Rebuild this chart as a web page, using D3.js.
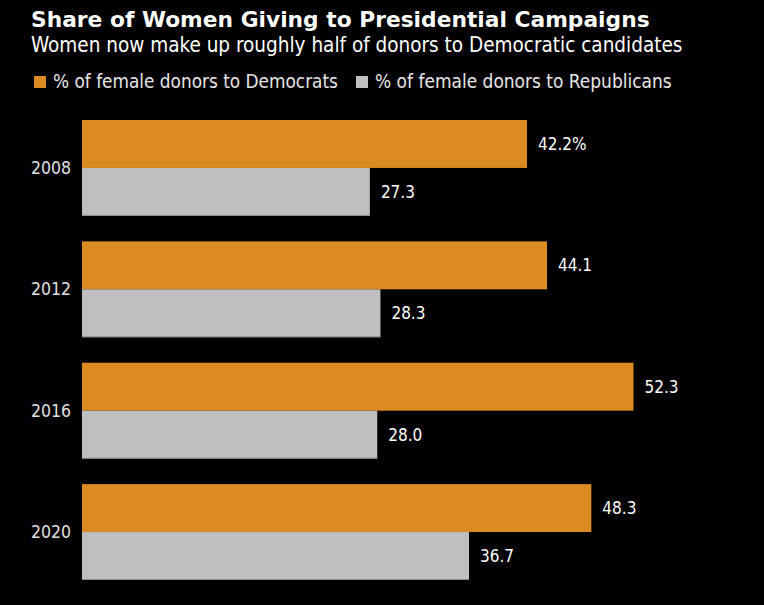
<!DOCTYPE html>
<html><head><meta charset="utf-8">
<script src="https://cdnjs.cloudflare.com/ajax/libs/d3/7.8.5/d3.min.js"></script>
<style>html,body{margin:0;padding:0;background:#000;}svg{display:block;}</style>
</head><body>
<script>
const years = ["2008", "2012", "2016", "2020"];
const democrats = [42.2, 44.1, 52.3, 48.3];
const republicans = [27.3, 28.3, 28.0, 36.7];
const seriesNames = ["% of female donors to Democrats", "% of female donors to Republicans"];
const colors = ["#dc8a22", "#bfbfbf"];

const W = 764, H = 605;
const svg = d3.select("body").append("svg").attr("width", W).attr("height", H).style("background", "#000");
const condensed = "'DejaVu Sans Condensed', 'DejaVu Sans', sans-serif";

function fit(sel, target) {
  const n = sel.node();
  const w = n.getComputedTextLength();
  const fs = parseFloat(sel.attr("font-size"));
  sel.attr("font-size", (fs * target / w).toFixed(2));
}

const title = svg.append("text").attr("x", 31).attr("y", 27).attr("fill", "#fff")
  .attr("font-family", "'DejaVu Sans', sans-serif").attr("font-weight", "bold").attr("font-size", 21)
  .text("Share of Women Giving to Presidential Campaigns");
fit(title, 619);
const sub = svg.append("text").attr("x", 31).attr("y", 52).attr("fill", "#fff")
  .attr("font-family", condensed).attr("font-size", 18)
  .text("Women now make up roughly half of donors to Democratic candidates");
fit(sub, 652);

const legendX = [34, 356];
const legendTextX = [53, 375];
const legendW = [285, 297];
seriesNames.forEach((s, i) => {
  svg.append("rect").attr("x", legendX[i]).attr("y", 76).attr("width", 12).attr("height", 12).attr("fill", colors[i]);
  const t = svg.append("text").attr("x", legendTextX[i]).attr("y", 88).attr("fill", "#e6e6e6")
    .attr("font-family", condensed).attr("font-size", 16).text(s);
  fit(t, legendW[i]);
});

const x = d3.scaleLinear().domain([0, 52.3]).range([82, 633.5]);
const y = d3.scaleBand().domain(years).range([120, 580]).paddingInner(0.21).paddingOuter(0);
const sub2 = d3.scaleBand().domain([0, 1]).range([0, y.bandwidth()]);

const data = years.map((yr, i) => ({ year: yr, vals: [democrats[i], republicans[i]] }));

const g = svg.selectAll("g.grp").data(data).join("g").attr("class", "grp")
  .attr("transform", d => `translate(0,${y(d.year)})`);

g.selectAll("rect.bar").data(d => d.vals.map((v, k) => ({ v, k })))
  .join("rect").attr("class", "bar")
  .attr("x", x(0)).attr("y", d => sub2(d.k))
  .attr("width", d => x(d.v) - x(0)).attr("height", sub2.bandwidth())
  .attr("fill", d => colors[d.k]);

g.append("line").attr("x1", x(0)).attr("x2", d => x(d.vals[1]))
  .attr("y1", y.bandwidth() - 0.5).attr("y2", y.bandwidth() - 0.5)
  .attr("stroke", "#8a8a8a").attr("stroke-width", 1);

g.selectAll("text.val").data((d, gi) => d.vals.map((v, k) => ({ v, k, gi })))
  .join("text").attr("class", "val")
  .attr("x", d => x(d.v) + 11).attr("y", d => sub2(d.k) + sub2.bandwidth() / 2 + 6)
  .attr("fill", "#fff").attr("font-family", condensed).attr("font-size", 17)
  .text(d => d.v.toFixed(1) + (d.gi === 0 && d.k === 0 ? "%" : ""));

g.append("text").attr("x", 71).attr("y", y.bandwidth() / 2 + 6)
  .attr("text-anchor", "end").attr("fill", "#e0e0e0")
  .attr("font-family", condensed).attr("font-size", 17.5)
  .text(d => d.year);
</script>
</body></html>
